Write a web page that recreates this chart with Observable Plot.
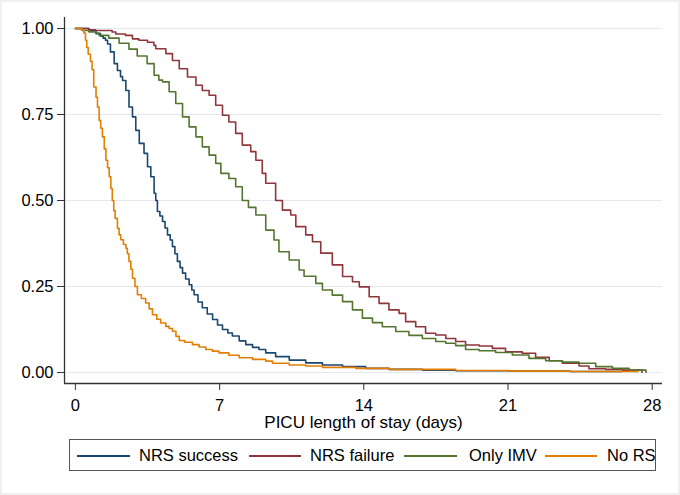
<!DOCTYPE html>
<html><head><meta charset="utf-8">
<script src="https://cdn.jsdelivr.net/npm/d3@7"></script>
<script src="https://cdn.jsdelivr.net/npm/@observablehq/plot@0.6"></script>
<style>
html,body{margin:0;padding:0;background:#fff;}
#wrap{position:relative;width:680px;height:495px;overflow:hidden;font-family:"Liberation Sans",Arial,sans-serif;background:#fff;}
#frame{position:absolute;left:0;top:0;width:680px;height:495px;box-sizing:border-box;border:2px solid #f0f0f0;pointer-events:none;}
#chart{position:absolute;left:0;top:0;}
#legend{position:absolute;left:69px;top:439px;width:587px;height:32px;box-sizing:border-box;border:1.5px solid #555;overflow:hidden;background:#fff;}
.sw{position:absolute;top:15px;height:1.6px;}
.lt{position:absolute;top:3px;font-size:16.5px;line-height:24px;color:#000;white-space:nowrap;}
</style>
</head><body>
<div id="wrap">
<div id="chart"></div>
<div id="legend"></div>
<div id="frame"></div>
</div>
<script>
const groups = ["NRS success", "NRS failure", "Only IMV", "No RS"];
const colors = ["#1a476f", "#90353b", "#55752f", "#e37e00"];
const xTicks = [0, 7, 14, 21, 28];
const yTicks = [0, 0.25, 0.5, 0.75, 1];
const xLabel = "PICU length of stay (days)";

// NRS success
const tSuccess = [0,0.65,1.0,1.22,1.35,1.46,1.56,1.70,1.88,2.04,2.19,2.29,2.45,2.6,2.77,2.93,3.1,3.33,3.5,3.66,3.82,3.9,3.98,4.1,4.23,4.35,4.47,4.6,4.71,4.83,4.95,5.08,5.2,5.35,5.52,5.65,5.76,5.95,6.16,6.4,6.66,6.9,7.14,7.4,7.62,7.95,8.27,8.6,8.91,9.24,9.72,10.38,11.18,11.99,12.97,14.09,15.23,16.84,18.46,21,24,26.5];
const sSuccess = [1,0.993,0.985,0.978,0.972,0.966,0.955,0.932,0.898,0.878,0.86,0.849,0.82,0.772,0.743,0.704,0.666,0.637,0.598,0.569,0.521,0.50,0.468,0.455,0.439,0.42,0.40,0.385,0.366,0.345,0.323,0.305,0.289,0.272,0.255,0.24,0.226,0.205,0.188,0.17,0.154,0.138,0.125,0.115,0.106,0.092,0.081,0.073,0.067,0.057,0.046,0.036,0.028,0.022,0.017,0.012,0.009,0.007,0.005,0.004,0.003,0.002];

// NRS failure
const tFailure = [0,0.65,0.98,1.78,1.96,2.43,2.77,3.08,3.5,3.81,3.9,4.39,4.71,5.04,5.44,5.85,6.16,6.49,6.81,7.14,7.45,7.78,8.1,8.51,8.76,9.07,9.24,9.72,10.05,10.45,10.7,11.18,11.51,11.91,12.47,12.97,13.45,13.78,14.26,14.74,15.22,15.71,16.03,16.52,17.0,17.49,17.98,18.46,18.94,19.6,20.24,20.88,21.69,22.34,23.0,23.64,24.45,24.93,25.74,26.55,27.5];
const sFailure = [1,0.996,0.994,0.99,0.984,0.98,0.97,0.966,0.96,0.951,0.941,0.927,0.907,0.883,0.859,0.835,0.82,0.806,0.777,0.748,0.728,0.695,0.661,0.642,0.617,0.579,0.55,0.50,0.472,0.458,0.424,0.40,0.38,0.347,0.313,0.279,0.264,0.249,0.22,0.201,0.182,0.172,0.148,0.133,0.114,0.109,0.099,0.09,0.08,0.077,0.07,0.06,0.056,0.044,0.034,0.027,0.019,0.011,0.009,0.007,0];

// Only IMV
const tImv = [0,0.33,0.66,0.98,1.15,1.62,2.12,2.6,3.0,3.48,3.82,4.05,4.23,4.55,4.87,5.2,5.52,5.85,6.16,6.49,6.81,7.06,7.45,7.78,8.1,8.4,8.76,9.24,9.64,9.88,10.38,10.86,11.1,11.67,11.99,12.47,12.97,13.45,13.93,14.42,14.9,15.55,16.19,16.84,17.49,17.98,18.46,18.94,19.6,20.4,21.21,22.02,22.83,23.64,24.45,25.26,26.07,26.88,27.7];
const sImv = [1,0.994,0.99,0.987,0.98,0.972,0.957,0.94,0.92,0.898,0.864,0.85,0.845,0.816,0.782,0.743,0.714,0.685,0.656,0.632,0.608,0.579,0.564,0.540,0.50,0.48,0.458,0.414,0.385,0.351,0.327,0.298,0.28,0.259,0.24,0.225,0.206,0.182,0.158,0.145,0.133,0.119,0.108,0.099,0.09,0.085,0.078,0.067,0.063,0.058,0.051,0.041,0.034,0.03,0.027,0.017,0.012,0.007,0];

// No RS
const tNoRs = [0,0.3,0.41,0.49,0.55,0.62,0.73,0.81,0.89,1.0,1.07,1.15,1.23,1.31,1.40,1.48,1.56,1.64,1.72,1.79,1.86,1.93,2.04,2.12,2.20,2.33,2.45,2.52,2.60,2.69,2.77,2.89,3.01,3.2,3.41,3.58,3.74,3.95,4.14,4.39,4.55,4.71,4.88,5.04,5.3,5.68,6.0,6.33,6.65,6.97,7.45,7.95,8.6,9.24,9.57,10.38,11.18,11.99,13.61,15.22,18.46,21,24,27.3];
const sNoRs = [1,0.995,0.987,0.966,0.945,0.925,0.905,0.88,0.83,0.8,0.772,0.733,0.71,0.685,0.65,0.617,0.595,0.569,0.535,0.50,0.47,0.448,0.419,0.40,0.386,0.372,0.361,0.345,0.323,0.30,0.274,0.25,0.226,0.215,0.202,0.185,0.168,0.155,0.144,0.134,0.128,0.12,0.105,0.093,0.088,0.081,0.074,0.067,0.062,0.057,0.05,0.043,0.038,0.033,0.027,0.022,0.019,0.015,0.012,0.009,0.006,0.004,0.003,0.002];

const series = [
  [groups[0], tSuccess, sSuccess],
  [groups[1], tFailure, sFailure],
  [groups[2], tImv, sImv],
  [groups[3], tNoRs, sNoRs]
];
const rows = series.flatMap(([g, ts, ss]) => ts.map((t, i) => ({group: g, t, s: ss[i]})));

const xMin = -0.53, xMax = 28.5, yMin = -0.032, yMax = 1.032;
const font = '"Liberation Sans", Arial, sans-serif';

const chart = Plot.plot({
  width: 680, height: 437,
  marginLeft: 64, marginRight: 18, marginTop: 17, marginBottom: 54,
  style: {fontFamily: font, fontSize: "16.5px", color: "#000", background: "transparent", overflow: "visible"},
  x: {domain: [xMin, xMax]},
  y: {domain: [yMin, yMax]},
  color: {domain: groups, range: colors},
  marks: [
    Plot.ruleY(yTicks, {stroke: "#e3e9ee", strokeWidth: 1.2}),
    Plot.line(rows, {x: "t", y: "s", z: "group", stroke: "group", curve: "step-after", strokeWidth: 1.6}),
    Plot.ruleX([xMin], {stroke: "#333", strokeWidth: 1.3}),
    Plot.ruleY([yMin], {stroke: "#333", strokeWidth: 1.3}),
    Plot.axisX({ticks: xTicks, tickSize: 7, tickPadding: 9, fontSize: 16.5, label: null, stroke: "#333"}),
    Plot.axisY({ticks: yTicks, tickSize: 7, tickPadding: 4, fontSize: 16.5, tickFormat: d3.format(".2f"), label: null, stroke: "#333"}),
    Plot.text([xLabel], {text: d => d, frameAnchor: "bottom", lineAnchor: "middle", dy: 39, fontSize: 17, fill: "#000"})
  ]
});
document.getElementById("chart").appendChild(chart);

// legend
const legendPos = [[7, 53, 69], [179, 52, 240], [334, 53, 399], [475, 52, 537]];
const leg = document.getElementById("legend");
groups.forEach((g, i) => {
  const [lx, lw, tx] = legendPos[i];
  const sw = document.createElement("div");
  sw.className = "sw";
  sw.style.left = lx + "px";
  sw.style.width = lw + "px";
  sw.style.background = colors[i];
  leg.appendChild(sw);
  const t = document.createElement("div");
  t.className = "lt";
  t.style.left = tx + "px";
  t.textContent = g;
  leg.appendChild(t);
});
</script>
</body></html>
